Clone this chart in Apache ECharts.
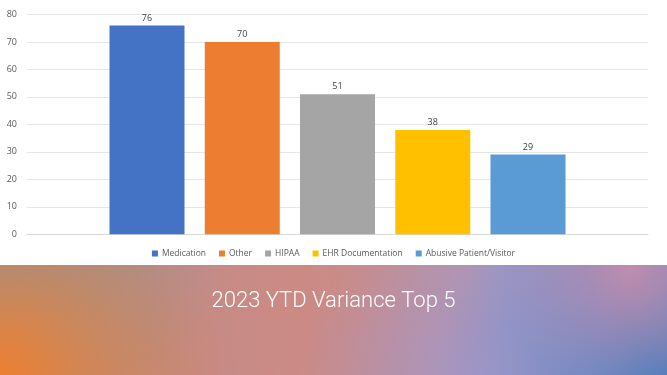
<!DOCTYPE html>
<html><head><meta charset="utf-8">
<script src="https://cdn.jsdelivr.net/npm/echarts@6/dist/echarts.min.js"></script>
<style>html,body{margin:0;padding:0;background:#fff}#c{width:667px;height:375px}</style>
</head><body><div id="c"></div>
<script>
const seriesNames = ['Medication', 'Other', 'HIPAA', 'EHR Documentation', 'Abusive Patient/Visitor'];
const seriesValues = [76, 70, 51, 38, 29];
const seriesColors = ['#4472C4', '#ED7D31', '#A5A5A5', '#FFC000', '#5B9BD5'];
const categories = [''];
const yTicks = { min: 0, max: 80, interval: 10 };
const titleText = '2023 YTD Variance Top 5';

const chart = echarts.init(document.getElementById('c'), null, { renderer: 'canvas' });
const font = '"Open Sans", "Noto Sans", sans-serif';
const bannerTop = 265, bannerH = 110;
function radial(cx, cy, r, color) {
  return {
    type: 'rect', silent: true, z: -9,
    shape: { x: 0, y: bannerTop, width: 667, height: bannerH },
    style: { fill: { type: 'radial', x: cx, y: cy, r: r, global: true,
      colorStops: [{ offset: 0, color: color }, { offset: 1, color: color.replace(/[\d.]+\)$/, '0)') }] } }
  };
}
chart.setOption({
  animation: false,
  backgroundColor: '#fff',
  graphic: [
    { type: 'rect', silent: true, z: -10,
      shape: { x: 0, y: bannerTop, width: 667, height: bannerH },
      style: { fill: { type: 'linear', x: 0, y: 0, x2: 1, y2: 0,
        colorStops: [{ offset: 0, color: '#B08C86' }, { offset: 0.45, color: '#CB8A88' }, { offset: 0.75, color: '#A79AC2' }, { offset: 1, color: '#8E95C6' }] } } },
    radial(0, 262, 220, 'rgba(122,150,178,1)'),
    radial(0, 378, 230, 'rgba(238,128,48,1)'),
    radial(330, 290, 180, 'rgba(205,138,130,0.7)'),
    radial(667, 378, 230, 'rgba(70,125,190,1)'),
    radial(630, 268, 130, 'rgba(205,140,170,0.85)'),
    radial(470, 378, 170, 'rgba(160,150,205,0.6)'),
    { type: 'text', z: 10, left: 'center', top: 290,
      style: { text: titleText, fill: '#ffffff', font: '300 22px Roboto, sans-serif' } }
  ],
  grid: { left: 27, right: 19, top: 14.5, bottom: 140.7 },
  legend: {
    data: seriesNames, bottom: 112, left: 'center', icon: 'rect', itemWidth: 6, itemHeight: 6, itemGap: 13,
    textStyle: { color: '#595959', fontSize: 8.5, fontFamily: font, padding: [0, 0, 0, -1] }
  },
  xAxis: { type: 'category', data: categories, axisLine: { show: true, lineStyle: { color: '#D9D9D9' } },
    axisTick: { show: false }, axisLabel: { show: false } },
  yAxis: { type: 'value', min: yTicks.min, max: yTicks.max, interval: yTicks.interval,
    axisLine: { show: false }, axisTick: { show: false },
    axisLabel: { color: '#595959', fontSize: 9, fontFamily: font, margin: 10 },
    splitLine: { lineStyle: { color: '#E6E6E6', width: 1 } } },
  series: seriesNames.map((n, i) => ({
    name: n, type: 'bar', data: [seriesValues[i]], barWidth: 75, barGap: '27%',
    itemStyle: { color: seriesColors[i] },
    label: { show: true, position: 'top', distance: 3, color: '#404040', fontSize: 9, fontFamily: font }
  }))
});
</script></body></html>
